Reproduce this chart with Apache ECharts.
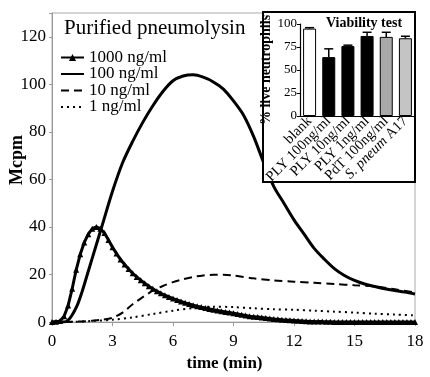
<!DOCTYPE html>
<html>
<head>
<meta charset="utf-8">
<script src="https://cdn.jsdelivr.net/npm/echarts@6/dist/echarts.min.js"></script>
<style>
  html, body { margin: 0; padding: 0; background: #fff; overflow: hidden; }
  #chart { width: 430px; height: 377px; }
</style>
</head>
<body>
<div id="chart"></div>
<script>
// ---------- Main chart data (time in min, signal in Mcpm) ----------
const xTicks = [0, 3, 6, 9, 12, 15, 18];
const yTicks = [0, 20, 40, 60, 80, 100, 120];

// 1000 ng/ml: sampled every 0.2 min (dense triangle markers)
const time1000 = [0,0.2,0.4,0.6,0.8,1.0,1.2,1.4,1.6,1.8,2.0,2.2,2.4,2.6,2.8,3.0,3.2,3.4,3.6,3.8,
  4.0,4.2,4.4,4.6,4.8,5.0,5.2,5.4,5.6,5.8,6.0,6.2,6.4,6.6,6.8,7.0,7.2,7.4,7.6,7.8,
  8.0,8.2,8.4,8.6,8.8,9.0,9.2,9.4,9.6,9.8,10.0,10.2,10.4,10.6,10.8,11.0,11.2,11.4,11.6,11.8,
  12.0,12.2,12.4,12.6,12.8,13.0,13.2,13.4,13.6,13.8,14.0,14.2,14.4,14.6,14.8,15.0,15.2,15.4,15.6,15.8,
  16.0,16.2,16.4,16.6,16.8,17.0,17.2,17.4,17.6,17.8,18.0];
const val1000 = [0,0.1,0.5,2.5,7,14,22,28.5,33.5,37,39.3,40,39.3,37.5,34.5,31.5,28.8,26.3,24.2,22.3,
  20.5,19,17.6,16.3,15.1,14,13,12.1,11.3,10.6,9.9,9.3,8.7,8.1,7.6,7.1,6.7,6.3,5.9,5.5,
  5.2,4.9,4.6,4.3,4.0,3.7,3.4,3.1,2.8,2.5,2.3,2.1,1.9,1.7,1.5,1.3,1.2,1.0,0.9,0.8,
  0.7,0.6,0.5,0.4,0.3,0.3,0.2,0.2,0.1,0.1,0,0,0,0,0,0,0,0,0,0,
  0,0,0,0,0,0,0,0,0,0,0];

// 100 ng/ml
const time100 = [0,0.6,0.8,1.0,1.25,1.5,1.75,2.0,2.5,3.0,3.5,4.0,4.5,5.0,5.5,6.0,6.5,7.0,7.5,8.0,
  8.5,9.0,9.5,10.0,10.5,11.0,11.5,12.0,12.5,13.0,13.5,14.0,14.5,15.0,15.5,16.0,16.5,17.0,17.5,18.0];
const val100 = [0,0,0.8,3,7,13,20,27,41,55,67,76,84,91,97,101.5,103.5,104,103,101,
  98,93,87,78,67,57,50,43,37,31,26.5,22.5,19.6,17.5,16,15,14,13.3,12.6,11.8];

// 10 ng/ml
const time10 = [0,0.5,1,1.5,2,2.5,3,3.5,4,4.5,5,5.5,6,6.5,7,7.5,8,8.5,9,10,11,12,13,14,15,16,17,18];
const val10 = [0,0,0.1,0.3,0.6,1,1.8,4,7.5,10.5,13.2,15.2,16.8,18,19,19.6,19.9,19.9,19.6,18.4,17.5,17,16.5,16,15.5,15,13.8,12.5];

// 1 ng/ml
const time1 = [0,1,2,3,4,5,6,7,8,9,10,11,12,13,14,15,16,17,18];
const val1 = [0,0.1,0.5,1,2,3.4,4.8,5.9,6.5,6.3,5.8,5.4,5.2,4.8,4.4,4,3.5,3.2,2.8];

const seriesNames = ['1000 ng/ml', '100 ng/ml', '10 ng/ml', '1 ng/ml'];

// ---------- Inset: viability test ----------
const viabilityCats = ['blank', 'PLY 100ng/ml', 'PLY 10ng/ml', 'PLY 1ng/ml', 'PdT 100ng/ml', 'S. pneum A17'];
const viabilityMean = [95, 64, 76, 87, 86, 84.5];
const viabilityErrTop = [96, 73, 77, 91, 91, 86.7];
const viabilityTicks = [0, 25, 50, 75, 100];

function pairs(xs, ys) { return xs.map((x, i) => [x, ys[i]]); }

const SERIF = '"Liberation Serif", "DejaVu Serif", serif';
const chart = echarts.init(document.getElementById('chart'), null, { renderer: 'canvas', width: 430, height: 377 });

const barColors = ['#ffffff', '#000000', '#000000', '#000000', '#a9a9a9', '#c4c4c4'];

const option = {
  animation: false,
  backgroundColor: '#fff',
  title: [
    { text: 'Purified pneumolysin', left: 64, top: 18, padding: 0,
      textStyle: { fontFamily: SERIF, fontSize: 21, fontWeight: 'normal', color: '#000' } },
    { text: 'Viability test', left: 326, top: 16, padding: 0, zlevel: 1, z: 10,
      textStyle: { fontFamily: SERIF, fontSize: 14, fontWeight: 'bold', color: '#000' } }
  ],
  legend: {
    data: [
      { name: seriesNames[0] },
      { name: seriesNames[1], itemStyle: { opacity: 0 } },
      { name: seriesNames[2], itemStyle: { opacity: 0 } },
      { name: seriesNames[3], itemStyle: { opacity: 0 } }
    ],
    orient: 'vertical',
    left: 60, top: 49, padding: 0,
    itemWidth: 23, itemHeight: 9, itemGap: -0.5,
    textStyle: { fontFamily: SERIF, fontSize: 17, color: '#000', lineHeight: 16 },
    selectedMode: false
  },
  grid: [
    { left: 52, right: 15, top: 13, bottom: 41, show: true, borderColor: '#aaa', borderWidth: 1, containLabel: false },
    { left: 300, top: 24, width: 115, height: 92, containLabel: false }
  ],
  xAxis: [
    { type: 'value', gridIndex: 0, min: 0, max: 18, interval: 3,
      axisLine: { lineStyle: { color: '#999', width: 1 } },
      axisTick: { show: true, length: 4, lineStyle: { color: '#999' } },
      splitLine: { show: false },
      axisLabel: { fontFamily: SERIF, fontSize: 17, color: '#000', margin: 11 },
      name: 'time (min)', nameLocation: 'middle', nameGap: 26,
      nameTextStyle: { fontFamily: SERIF, fontSize: 17, fontWeight: 'bold', color: '#000', padding: [0, 18, 0, 0] }
    },
    { type: 'category', gridIndex: 1, data: viabilityCats, zlevel: 1, z: 5,
      axisLine: { lineStyle: { color: '#000', width: 1.2 } },
      axisTick: { show: false },
      axisLabel: { interval: 0, rotate: 45, margin: 3, fontFamily: SERIF, fontSize: 14.5, color: '#000',
        formatter: function (v) { return v === 'S. pneum A17' ? '{it|S. pneum} A17' : v; },
        rich: { it: { fontFamily: SERIF, fontSize: 14.5, fontStyle: 'italic', color: '#000' } } }
    }
  ],
  yAxis: [
    { type: 'value', gridIndex: 0, min: 0, max: 130, interval: 20,
      axisLine: { show: true, lineStyle: { color: '#999', width: 1 } },
      axisTick: { show: true, length: 3, lineStyle: { color: '#999' } },
      splitLine: { show: false },
      axisLabel: { fontFamily: SERIF, fontSize: 17, color: '#000', margin: 6,
        formatter: function (v) { return yTicks.indexOf(v) >= 0 ? String(v) : ''; } }
    },
    { type: 'value', gridIndex: 1, min: 0, max: 100, interval: 25, zlevel: 1, z: 5,
      axisLine: { show: true, lineStyle: { color: '#000', width: 1.2 } },
      axisTick: { show: true, length: 3, lineStyle: { color: '#000' } },
      splitLine: { show: false },
      axisLabel: { fontFamily: SERIF, fontSize: 13, color: '#000', margin: 3,
        formatter: function (v) { return viabilityTicks.indexOf(v) >= 0 ? String(v) : ''; } },
      name: '% live neutrophils', nameLocation: 'middle', nameGap: 18,
      nameTextStyle: { fontFamily: SERIF, fontSize: 14, fontWeight: 'bold', color: '#000' }
    }
  ],
  graphic: [
    { type: 'rect', zlevel: 1, z: 0, shape: { x: 263, y: 12, width: 152, height: 170 },
      style: { fill: '#fff', stroke: '#000', lineWidth: 2 } },
    { type: 'text', zlevel: 0, z: 10, x: 17, y: 160, rotation: Math.PI / 2,
      style: { text: 'Mcpm', fontFamily: SERIF, fontSize: 18, fontWeight: 'bold', fill: '#000',
        align: 'center', verticalAlign: 'middle' } }
  ],
  series: [
    { name: seriesNames[0], type: 'line', xAxisIndex: 0, yAxisIndex: 0,
      data: pairs(time1000, val1000), symbol: 'triangle', symbolSize: 6, showSymbol: true,
      lineStyle: { color: '#000', width: 3 }, itemStyle: { color: '#000' }, z: 3 },
    { name: seriesNames[1], type: 'line', xAxisIndex: 0, yAxisIndex: 0,
      data: pairs(time100, val100), symbol: 'none', smooth: 0.3,
      lineStyle: { color: '#000', width: 3 }, itemStyle: { color: '#000' }, z: 2 },
    { name: seriesNames[2], type: 'line', xAxisIndex: 0, yAxisIndex: 0,
      data: pairs(time10, val10), symbol: 'none', smooth: 0.3,
      lineStyle: { color: '#000', width: 2, type: [8, 5] }, itemStyle: { color: '#000' }, z: 2 },
    { name: seriesNames[3], type: 'line', xAxisIndex: 0, yAxisIndex: 0,
      data: pairs(time1, val1), symbol: 'none', smooth: 0.3,
      lineStyle: { color: '#000', width: 2, type: [2, 4] }, itemStyle: { color: '#000' }, z: 2 },
    { name: 'viability', type: 'bar', xAxisIndex: 1, yAxisIndex: 1, zlevel: 1, z: 6,
      barWidth: 13,
      data: viabilityMean.map((v, i) => ({ value: v, itemStyle: { color: barColors[i], borderColor: '#000', borderWidth: 1 } })) },
    { name: 'err', type: 'custom', xAxisIndex: 1, yAxisIndex: 1, zlevel: 1, z: 7,
      data: viabilityMean.map((v, i) => [i, v, viabilityErrTop[i]]),
      renderItem: function (params, api) {
        const p1 = api.coord([api.value(0), api.value(1)]);
        const p2 = api.coord([api.value(0), api.value(2)]);
        const w = 9;
        return { type: 'group', children: [
          { type: 'line', shape: { x1: p1[0], y1: p1[1], x2: p2[0], y2: p2[1] }, style: { stroke: '#000', lineWidth: 1.5 } },
          { type: 'line', shape: { x1: p2[0] - w / 2, y1: p2[1], x2: p2[0] + w / 2, y2: p2[1] }, style: { stroke: '#000', lineWidth: 1.5 } }
        ] };
      } }
  ]
};
chart.setOption(option);
</script>
</body>
</html>
